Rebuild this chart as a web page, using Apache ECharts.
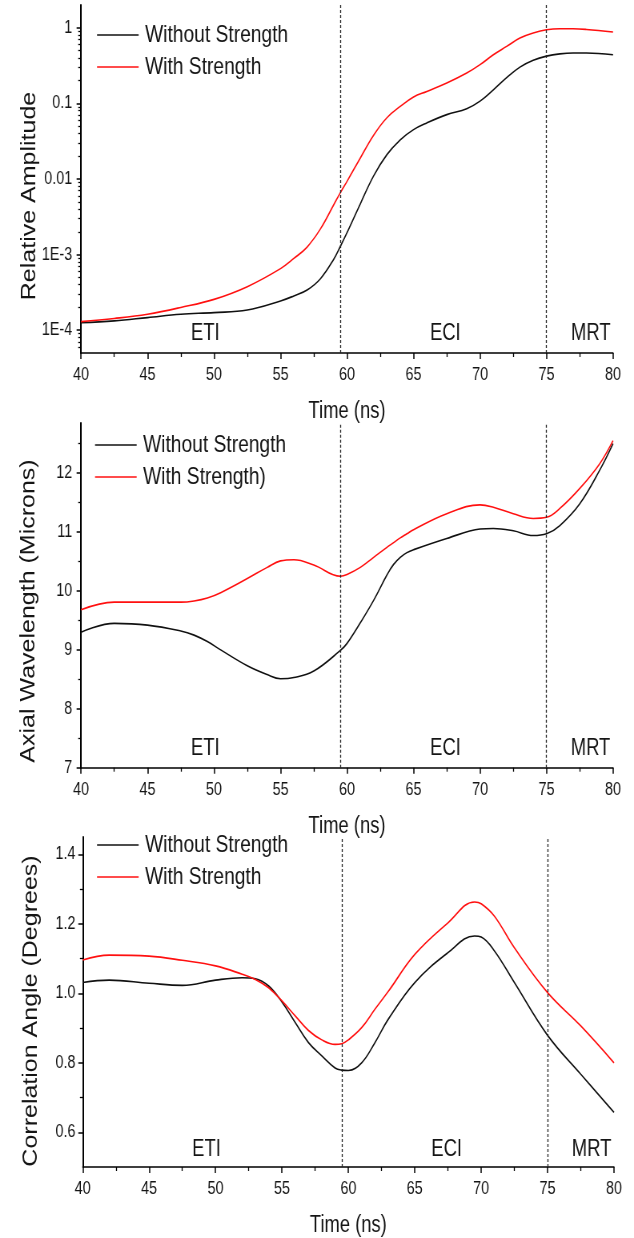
<!DOCTYPE html>
<html>
<head>
<meta charset="utf-8">
<script src="https://cdn.jsdelivr.net/npm/echarts@6/dist/echarts.min.js"></script>
<style>
html,body{margin:0;padding:0;background:#fff;overflow:hidden;}
#wrap{width:634px;height:1238px;overflow:hidden;}
#chart{width:792px;height:1238px;transform:scaleX(0.80051);transform-origin:0 0;}
</style>
</head>
<body>
<div id="wrap"><div id="chart"></div></div>
<script>
// ---------------- data ----------------
const boundaries = [59.5, 75];
const regionNames = ['ETI', 'ECI', 'MRT'];
const legendNamesA = ['Without Strength', 'With Strength'];
const legendNamesB = ['Without Strength', 'With Strength)'];
const yTitles = ['Relative Amplitude', 'Axial Wavelength (Microns)', 'Correlation Angle (Degrees)'];
const xTitle = 'Time (ns)';

// Panel 1: relative amplitude (log axis)
const ampTime = [40,42.5,45,47.5,50,52.5,55,56,57,58,59,59.5,60,61,62,63,64,65,66,67.5,69,70,71,72,73,74,75,76,77,78,80];
const ampWithout = [1.26e-4,1.33e-4,1.47e-4,1.63e-4,1.71e-4,1.85e-4,2.44e-4,2.84e-4,3.4e-4,4.8e-4,
                    8.7e-4,1.29e-3,1.95e-3,4.7e-3,0.011,0.021,0.033,0.045,0.0552,0.071,
                    0.085,0.107,0.151,0.219,0.302,0.372,0.422,0.452,0.464,0.464,0.44];
const ampWith = [1.30e-4,1.43e-4,1.63e-4,2.0e-4,2.56e-4,3.77e-4,6.53e-4,8.9e-4,1.26e-3,2.19e-3,
                 4.57e-3,6.6e-3,9.3e-3,0.019,0.038,0.0646,0.0912,0.1216,0.144,0.186,
                 0.252,0.325,0.44,0.567,0.731,0.851,0.94,0.97,0.97,0.95,0.877];
const ampTickValues = [1e-4, 1e-3, 0.01, 0.1, 1];
const ampTickLabels = ['1E-4', '1E-3', '0.01', '0.1', '1'];
const ampMinorMultipliers = [2,3,4,5,6,7,8,9];

// Panel 2: axial wavelength
const waveTime = [40,42.5,45,47.5,48.5,49.5,50.5,52.5,54,55,56,57.5,59.5,60,61,62,63,63.5,64,64.5,65,67.5,70,71,72.5,74,75,76,77.5,79,80];
const waveWithout = [9.30,9.45,9.42,9.32,9.25,9.14,9.00,8.73,8.58,8.51,8.53,8.64,8.99,9.11,9.46,9.84,10.27,10.45,10.57,10.65,10.70,10.89,11.05,11.06,11.02,10.94,10.97,11.11,11.48,12.05,12.5];
const waveWith = [9.68,9.81,9.81,9.81,9.83,9.88,9.97,10.21,10.40,10.51,10.53,10.44,10.25,10.28,10.40,10.57,10.74,10.82,10.90,10.97,11.04,11.31,11.46,11.42,11.31,11.23,11.25,11.40,11.74,12.16,12.55];
const waveTickValues = [7, 8, 9, 10, 11, 12];
const waveTickLabels = ['7', '8', '9', '10', '11', '12'];
const waveMinorValues = [7.5, 8.5, 9.5, 10.5, 11.5, 12.5];

// Panel 3: correlation angle
const angleTime = [40,42,45,47.5,50,52,53,54,55,56,57,58,59,59.5,60,61,62,63,65,67.5,69.5,70,71,72.5,75,77.5,80];
const angleWithout = [1.031,1.038,1.029,1.023,1.038,1.045,1.042,1.021,0.975,0.916,0.858,0.82,0.785,0.779,0.778,0.80,0.858,0.925,1.031,1.117,1.165,1.162,1.122,1.031,0.879,0.767,0.657];
const angleWith = [1.096,1.11,1.107,1.095,1.079,1.055,1.040,1.016,0.978,0.935,0.893,0.866,0.853,0.855,0.866,0.901,0.954,1.005,1.112,1.203,1.263,1.258,1.222,1.131,1.002,0.906,0.80];
const angleTickValues = [0.6, 0.8, 1.0, 1.2, 1.4];
const angleTickLabels = ['0.6', '0.8', '1.0', '1.2', '1.4'];
const angleMinorValues = [0.7, 0.9, 1.1, 1.3];

// ---------------- build ----------------
const FONT = "'Liberation Sans', Arial, Helvetica, sans-serif";
const TXT = '#151515';
const BLACK = '#111111';
const RED = '#ff1010';

function pairs(t, v) { return t.map((x, i) => [x, v[i]]); }
function labelFor(values, labels, isLog) {
  return function (v) {
    for (let i = 0; i < values.length; i++) {
      const d = isLog ? Math.abs(Math.log10(v) - Math.log10(values[i])) : Math.abs(v - values[i]);
      if (d < 1e-6) return labels[i];
    }
    return '';
  };
}
const ampMinorValues = [];
[-5, -4, -3, -2, -1, 0].forEach(e => ampMinorMultipliers.forEach(m => {
  const v = m * Math.pow(10, e);
  if (v > 5e-5 && v < 2) ampMinorValues.push(v);
}));

const grids = [
  { left: 101.2, right: 26.2, top: 5, height: 348 },
  { left: 101.2, right: 26.2, top: 423, height: 344.7 },
  { left: 103.3, right: 25, top: 837, height: 331 }
];

function xAxisFor(i) {
  return {
    type: 'value', gridIndex: i, min: 40, max: 80, interval: 5,
    name: xTitle, nameLocation: 'middle', nameGap: 47,
    nameTextStyle: { fontSize: 23, color: TXT, fontFamily: FONT },
    axisLine: { show: true, onZero: false, lineStyle: { color: '#000', width: 1.5 } },
    axisTick: { show: true, inside: false, length: 6, lineStyle: { color: '#000', width: 1.5 } },
    minorTick: { show: true, splitNumber: 2, length: 4, lineStyle: { color: '#000', width: 1.3 } },
    axisLabel: { fontSize: 18, color: TXT, fontFamily: FONT, margin: 13 },
    splitLine: { show: false }, minorSplitLine: { show: false }
  };
}
function yMain(i, type, min, max, tickVals, tickLabels, margin) {
  return {
    type: type, gridIndex: i, min: min, max: max, position: 'left',
    logBase: 10,
    axisLine: { show: true, onZero: false, lineStyle: { color: '#000', width: 2 } },
    axisTick: { show: true, inside: false, length: 5.5, customValues: tickVals, lineStyle: { color: '#000', width: 1.5 } },
    axisLabel: { show: true, fontSize: 18, color: TXT, fontFamily: FONT, margin: margin,
                 customValues: tickVals, formatter: labelFor(tickVals, tickLabels, type === 'log') },
    splitLine: { show: false }
  };
}
function yMinor(i, type, min, max, minorVals) {
  return {
    type: type, gridIndex: i, min: min, max: max, position: 'left', offset: 0,
    logBase: 10,
    axisLine: { show: false },
    axisTick: { show: true, inside: false, length: 3.5, customValues: minorVals, lineStyle: { color: '#000', width: 1.3 } },
    axisLabel: { show: false },
    splitLine: { show: false }
  };
}

const yAxes = [
  yMain(0, 'log', 5e-5, 2, ampTickValues, ampTickLabels, 11),
  yMain(1, 'value', 7, 12.85, waveTickValues, waveTickLabels, 11),
  yMain(2, 'value', 0.5, 1.45, angleTickValues, angleTickLabels, 9),
  yMinor(0, 'log', 5e-5, 2, ampMinorValues),
  yMinor(1, 'value', 7, 12.85, waveMinorValues),
  yMinor(2, 'value', 0.5, 1.45, angleMinorValues)
];

function lineSeries(name, data, color, gi, withMark) {
  const s = {
    type: 'line', name: name, xAxisIndex: gi, yAxisIndex: gi,
    data: data, smooth: 0.4, symbol: 'none', showSymbol: false,
    lineStyle: { color: color, width: 1.6 }, itemStyle: { color: color },
    z: 3
  };
  if (withMark) {
    s.markLine = {
      silent: true, symbol: ['none', 'none'], animation: false,
      label: { show: false },
      lineStyle: { color: '#222', width: 1.3, type: [3, 2] },
      data: boundaries.map(b => ({ xAxis: b }))
    };
  }
  return s;
}

const series = [
  lineSeries(legendNamesA[0], pairs(ampTime, ampWithout), BLACK, 0, true),
  lineSeries(legendNamesA[1], pairs(ampTime, ampWith), RED, 0, false),
  lineSeries(legendNamesB[0], pairs(waveTime, waveWithout), BLACK, 1, true),
  lineSeries(legendNamesB[1], pairs(waveTime, waveWith), RED, 1, false),
  lineSeries(legendNamesA[0], pairs(angleTime, angleWithout), BLACK, 2, true),
  lineSeries(legendNamesA[1], pairs(angleTime, angleWith), RED, 2, false)
];

function legendFor(names, left, top) {
  return {
    orient: 'vertical', left: left, top: top, itemWidth: 52, itemHeight: 14, itemGap: 8,
    selectedMode: false, padding: 0,
    textStyle: { fontSize: 24, color: TXT, fontFamily: FONT, lineHeight: 24, padding: [0, 0, 0, 3] },
    data: names.map(n => ({ name: n, icon: 'path://M0,0L52,0L52,1.6L0,1.6Z' }))
  };
}

const regionPos = [
  { y: 334, xs: [256.5, 556.3, 738] },
  { y: 748.5, xs: [256.5, 556.5, 737.7] },
  { y: 1149.5, xs: [258, 558, 739] }
];
const titlePos = [
  { x: 37, y: 196 }, { x: 35.7, y: 611 }, { x: 39, y: 1011 }
];
const graphics = [];
regionPos.forEach(p => p.xs.forEach((x, k) => graphics.push({
  type: 'text', x: x, y: p.y, silent: true,
  style: { text: regionNames[k], fontSize: 23, fontFamily: FONT, fill: TXT,
           align: 'center', verticalAlign: 'middle', textAlign: 'center', textVerticalAlign: 'middle' }
})));
titlePos.forEach((p, k) => graphics.push({
  type: 'text', x: p.x, y: p.y, rotation: Math.PI / 2, silent: true,
  style: { text: yTitles[k], fontSize: 25, fontFamily: FONT, fill: TXT,
           align: 'center', verticalAlign: 'middle', textAlign: 'center', textVerticalAlign: 'middle' }
}));

const chart = echarts.init(document.getElementById('chart'), null, { renderer: 'canvas' });
chart.setOption({
  backgroundColor: '#ffffff',
  animation: false,
  textStyle: { fontFamily: FONT },
  grid: grids,
  xAxis: [xAxisFor(0), xAxisFor(1), xAxisFor(2)],
  yAxis: yAxes,
  legend: [
    legendFor(legendNamesA, 121.2, 23),
    legendFor(legendNamesB, 118.7, 433),
    legendFor(legendNamesA, 121.2, 833)
  ],
  graphic: graphics,
  series: series
});
</script>
</body>
</html>
